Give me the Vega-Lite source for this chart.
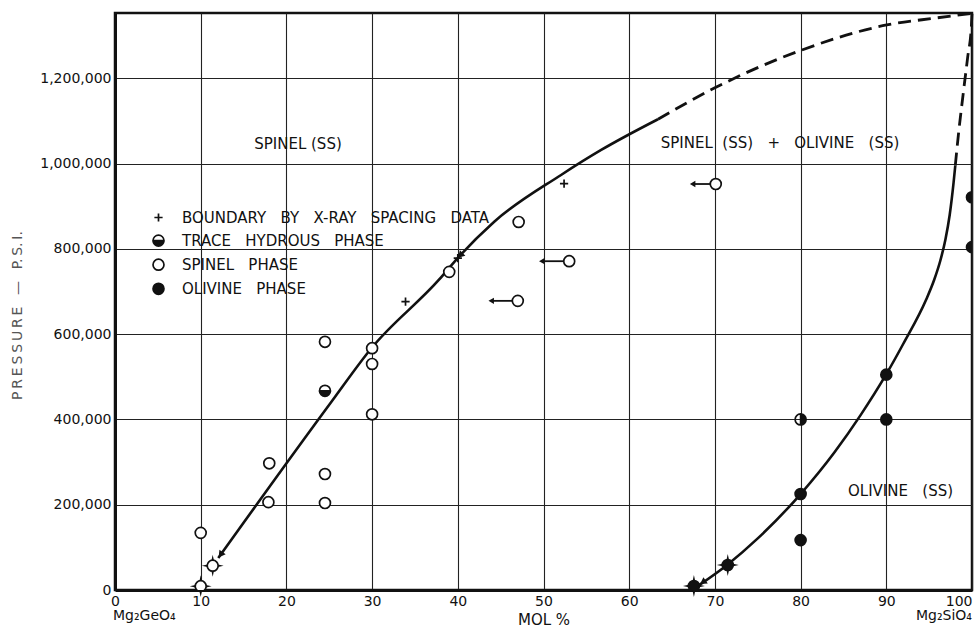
{
  "$schema": "https://vega.github.io/schema/vega-lite/v6.json",
  "width": 857,
  "height": 577,
  "autosize": {"type": "none"},
  "padding": {"left": 115, "top": 13, "right": 2, "bottom": 39},
  "background": "white",
  "config": {
    "font": "DejaVu Sans",
    "view": {"stroke": "#111", "strokeWidth": 2.5},
    "axis": {
      "labelFont": "DejaVu Sans",
      "labelFontSize": 14,
      "labelColor": "#111",
      "titleFont": "DejaVu Sans",
      "titleFontWeight": "normal",
      "tickSize": 0,
      "domainColor": "#111",
      "domainWidth": 3,
      "gridColor": "#222",
      "gridWidth": 1.1,
      "gridOpacity": 1
    },
    "legend": {
      "orient": "none",
      "legendX": 30,
      "legendY": 191,
      "title": null,
      "labelFont": "DejaVu Sans",
      "labelFontSize": 15,
      "labelColor": "#111",
      "labelLimit": 400,
      "labelOffset": 16,
      "rowPadding": 5.1,
      "padding": 6,
      "symbolSize": 120,
      "symbolStrokeWidth": 1.7,
      "symbolStrokeColor": "#111",
      "symbolOpacity": 1
    }
  },
  "datasets": {
    "curves": [
      {"curve": "spinel", "kind": "observed", "mol": 12.05, "psi": 75000},
      {"curve": "spinel", "kind": "observed", "mol": 25.15, "psi": 438500},
      {"curve": "spinel", "kind": "observed", "mol": 29.94, "psi": 567500},
      {"curve": "spinel", "kind": "observed", "mol": 37.78, "psi": 727000},
      {"curve": "spinel", "kind": "observed", "mol": 39.96, "psi": 777800},
      {"curve": "spinel", "kind": "observed", "mol": 44.25, "psi": 863600},
      {"curve": "spinel", "kind": "observed", "mol": 52.05, "psi": 973200},
      {"curve": "spinel", "kind": "observed", "mol": 56.73, "psi": 1031800},
      {"curve": "spinel", "kind": "observed", "mol": 63.36, "psi": 1103800},
      {"curve": "spinel", "kind": "inferred", "mol": 63.36, "psi": 1103800},
      {"curve": "spinel", "kind": "inferred", "mol": 69.94, "psi": 1177000},
      {"curve": "spinel", "kind": "inferred", "mol": 80.12, "psi": 1266000},
      {"curve": "spinel", "kind": "inferred", "mol": 90.06, "psi": 1325000},
      {"curve": "spinel", "kind": "inferred", "mol": 95.67, "psi": 1341000},
      {"curve": "spinel", "kind": "inferred", "mol": 100, "psi": 1352000},
      {"curve": "olivine", "kind": "observed", "mol": 68.2, "psi": 12000},
      {"curve": "olivine", "kind": "observed", "mol": 71.5, "psi": 60000},
      {"curve": "olivine", "kind": "observed", "mol": 75.0, "psi": 121000},
      {"curve": "olivine", "kind": "observed", "mol": 80.0, "psi": 225000},
      {"curve": "olivine", "kind": "observed", "mol": 84.0, "psi": 324000},
      {"curve": "olivine", "kind": "observed", "mol": 87.0, "psi": 410000},
      {"curve": "olivine", "kind": "observed", "mol": 90.0, "psi": 506000},
      {"curve": "olivine", "kind": "observed", "mol": 92.0, "psi": 578000},
      {"curve": "olivine", "kind": "observed", "mol": 94.63, "psi": 680000},
      {"curve": "olivine", "kind": "observed", "mol": 95.6, "psi": 728000},
      {"curve": "olivine", "kind": "observed", "mol": 96.3, "psi": 772000},
      {"curve": "olivine", "kind": "observed", "mol": 96.9, "psi": 822000},
      {"curve": "olivine", "kind": "observed", "mol": 97.4, "psi": 880000},
      {"curve": "olivine", "kind": "observed", "mol": 97.85, "psi": 955000},
      {"curve": "olivine", "kind": "observed", "mol": 98.05, "psi": 995000},
      {"curve": "olivine", "kind": "inferred", "mol": 98.05, "psi": 995000},
      {"curve": "olivine", "kind": "inferred", "mol": 98.4, "psi": 1065000},
      {"curve": "olivine", "kind": "inferred", "mol": 98.95, "psi": 1160000},
      {"curve": "olivine", "kind": "inferred", "mol": 99.5, "psi": 1250000},
      {"curve": "olivine", "kind": "inferred", "mol": 99.92, "psi": 1320000},
      {"curve": "olivine", "kind": "inferred", "mol": 100, "psi": 1352000}
    ],
    "obs": [
      {"phase": "BOUNDARY BY X-RAY SPACING DATA", "mol": 52.4, "psi": 953000},
      {"phase": "BOUNDARY BY X-RAY SPACING DATA", "mol": 40.0, "psi": 778000},
      {"phase": "BOUNDARY BY X-RAY SPACING DATA", "mol": 33.9, "psi": 676000},
      {"phase": "SPINEL PHASE", "mol": 10.0, "psi": 9000},
      {"phase": "SPINEL PHASE", "mol": 11.4, "psi": 57000},
      {"phase": "SPINEL PHASE", "mol": 10.0, "psi": 134000},
      {"phase": "SPINEL PHASE", "mol": 18.0, "psi": 297000},
      {"phase": "SPINEL PHASE", "mol": 17.9, "psi": 206000},
      {"phase": "SPINEL PHASE", "mol": 24.5, "psi": 582000},
      {"phase": "SPINEL PHASE", "mol": 24.5, "psi": 272000},
      {"phase": "SPINEL PHASE", "mol": 24.5, "psi": 204000},
      {"phase": "SPINEL PHASE", "mol": 30.0, "psi": 567000},
      {"phase": "SPINEL PHASE", "mol": 30.0, "psi": 530000},
      {"phase": "SPINEL PHASE", "mol": 30.0, "psi": 412000},
      {"phase": "SPINEL PHASE", "mol": 39.0, "psi": 746000},
      {"phase": "SPINEL PHASE", "mol": 47.1, "psi": 863000},
      {"phase": "SPINEL PHASE", "mol": 70.1, "psi": 952000},
      {"phase": "SPINEL PHASE", "mol": 53.0, "psi": 771000},
      {"phase": "SPINEL PHASE", "mol": 47.0, "psi": 678000},
      {"phase": "TRACE HYDROUS PHASE", "mol": 24.5, "psi": 467000},
      {"phase": "TRACE HYDROUS PHASE", "mol": 80.0, "psi": 400000},
      {"phase": "OLIVINE PHASE", "mol": 67.55, "psi": 9400},
      {"phase": "OLIVINE PHASE", "mol": 71.5, "psi": 58600},
      {"phase": "OLIVINE PHASE", "mol": 80.0, "psi": 225000},
      {"phase": "OLIVINE PHASE", "mol": 80.0, "psi": 117000},
      {"phase": "OLIVINE PHASE", "mol": 90.0, "psi": 505000},
      {"phase": "OLIVINE PHASE", "mol": 90.0, "psi": 400000},
      {"phase": "OLIVINE PHASE", "mol": 100.0, "psi": 921000},
      {"phase": "OLIVINE PHASE", "mol": 100.0, "psi": 804000}
    ],
    "bursts": [
      {"mol": 10.0, "psi": 9000},
      {"mol": 11.4, "psi": 57000},
      {"mol": 67.55, "psi": 9400},
      {"mol": 71.5, "psi": 58600}
    ],
    "shifts": [
      {"mol": 70.1, "psi": 952000, "tip": 67.4},
      {"mol": 53.0, "psi": 771000, "tip": 49.8},
      {"mol": 47.0, "psi": 678000, "tip": 43.9}
    ],
    "regions": [
      {"label": "SPINEL (SS)", "mol": 21.35, "psi": 1046000},
      {"label": "SPINEL\u00a0\u00a0(SS)\u00a0\u00a0\u00a0+\u00a0\u00a0\u00a0OLIVINE\u00a0\u00a0\u00a0(SS)", "mol": 77.6, "psi": 1048000},
      {"label": "OLIVINE\u00a0\u00a0\u00a0(SS)", "mol": 91.66, "psi": 232000}
    ]
  },
  "encoding": {
    "x": {
      "field": "mol",
      "type": "quantitative",
      "scale": {"domain": [0, 100], "nice": false, "zero": false},
      "axis": {
        "values": [0, 10, 20, 30, 40, 50, 60, 70, 80, 90, 100],
        "title": "MOL %",
        "titleFontSize": 15,
        "titleColor": "#111",
        "titlePadding": 4,
        "labelPadding": 4,
        "labelAlign": {"condition": {"test": "datum.value === 100", "value": "right"}, "value": "center"}
      }
    },
    "y": {
      "field": "psi",
      "type": "quantitative",
      "scale": {"domain": [0, 1353000], "nice": false},
      "axis": {
        "values": [0, 200000, 400000, 600000, 800000, 1000000, 1200000],
        "format": ",d",
        "labelPadding": 4,
        "title": "P\u2009R\u2009E\u2009S\u2009S\u2009U\u2009R\u2009E\u00a0\u00a0\u2009\u2014\u2009\u00a0\u00a0P.\u2009S.\u2009I.",
        "titleFontSize": 14,
        "titleColor": "#555",
        "titleAngle": -90,
        "titleAlign": "center",
        "titleBaseline": "middle",
        "titleX": -98,
        "titleY": 302
      }
    }
  },
  "layer": [
    {
      "data": {"name": "curves"},
      "transform": [{"filter": "datum.kind === 'observed'"}],
      "mark": {"type": "line", "color": "#111", "strokeWidth": 2.6, "interpolate": "monotone"},
      "encoding": {"detail": {"field": "curve", "type": "nominal"}}
    },
    {
      "data": {"name": "curves"},
      "transform": [{"filter": "datum.kind === 'inferred'"}],
      "mark": {"type": "line", "color": "#111", "strokeWidth": 2.8, "strokeDash": [13, 7], "interpolate": "monotone"},
      "encoding": {"detail": {"field": "curve", "type": "nominal"}}
    },
    {
      "data": {"name": "bursts"},
      "mark": {"type": "point", "shape": "M0,-1L0.18,-0.18L1,0L0.18,0.18L0,1L-0.18,0.18L-1,0L-0.18,-0.18Z", "filled": true, "color": "#111", "size": 480, "opacity": 1}
    },
    {
      "data": {"name": "shifts"},
      "mark": {"type": "rule", "color": "#111", "strokeWidth": 1.8},
      "encoding": {
        "x": {"field": "tip", "type": "quantitative"},
        "x2": {"field": "mol"}
      }
    },
    {
      "data": {"name": "shifts"},
      "mark": {"type": "point", "shape": "triangle-left", "filled": true, "color": "#111", "size": 40, "opacity": 1},
      "encoding": {"x": {"field": "tip", "type": "quantitative"}}
    },
    {
      "data": {"values": [{"mol": 12.32, "psi": 82600}]},
      "mark": {"type": "point", "shape": "triangle-up", "filled": true, "color": "#111", "size": 60, "opacity": 1, "angle": 216}
    },
    {
      "data": {"values": [{"mol": 40.29, "psi": 784400}]},
      "mark": {"type": "point", "shape": "triangle-up", "filled": true, "color": "#111", "size": 60, "opacity": 1, "angle": 225}
    },
    {
      "data": {"values": [{"mol": 68.59, "psi": 18200}]},
      "mark": {"type": "point", "shape": "triangle-up", "filled": true, "color": "#111", "size": 60, "opacity": 1, "angle": 236}
    },
    {
      "data": {"name": "obs"},
      "mark": {"type": "point", "filled": true, "stroke": "#111", "strokeWidth": 1.7, "size": 120, "opacity": 1, "clip": true},
      "encoding": {
        "shape": {
          "field": "phase",
          "type": "nominal",
          "scale": {
            "domain": ["BOUNDARY BY X-RAY SPACING DATA", "TRACE HYDROUS PHASE", "SPINEL PHASE", "OLIVINE PHASE"],
            "range": [
              "M-0.75,0H0.75M0,-0.75V0.75",
              "M1,0C1,0.5523 0.5523,1 0,1C-0.5523,1 -1,0.5523 -1,0C-1,-0.5523 -0.5523,-1 0,-1C0.5523,-1 1,-0.5523 1,0ZM1,0C1,-0.5523 0.5523,-1 0,-1C-0.5523,-1 -1,-0.5523 -1,0Z",
              "circle",
              "circle"
            ]
          },
          "legend": {
            "labelExpr": "replace(datum.label, regexp(' ', 'g'), '\u00a0\u00a0\u00a0')",
            "encode": {"symbols": {"update": {"stroke": {"value": "#111"}, "strokeWidth": {"value": 1.7}, "opacity": {"value": 1}}}}
          }
        },
        "fill": {
          "field": "phase",
          "type": "nominal",
          "scale": {
            "domain": ["BOUNDARY BY X-RAY SPACING DATA", "TRACE HYDROUS PHASE", "SPINEL PHASE", "OLIVINE PHASE"],
            "range": ["#111", "#111", "white", "#111"]
          },
          "legend": {
            "labelExpr": "replace(datum.label, regexp(' ', 'g'), '\u00a0\u00a0\u00a0')",
            "encode": {"symbols": {"update": {"stroke": {"value": "#111"}, "strokeWidth": {"value": 1.7}, "opacity": {"value": 1}}}}
          }
        },
        "angle": {"condition": {"test": "datum.phase === 'TRACE HYDROUS PHASE' && datum.mol === 80", "value": 270}, "value": 0}
      }
    },
    {
      "data": {"name": "regions"},
      "mark": {"type": "text", "fontSize": 15, "color": "#111", "align": "center", "baseline": "middle"},
      "encoding": {"text": {"field": "label", "type": "nominal"}}
    },
    {
      "data": {"values": [{"label": "Mg₂GeO₄", "mol": 0, "psi": 0}]},
      "mark": {"type": "text", "fontSize": 14, "color": "#111", "align": "left", "baseline": "middle", "dx": -2, "dy": 26},
      "encoding": {"text": {"field": "label", "type": "nominal"}}
    },
    {
      "data": {"values": [{"label": "Mg₂SiO₄", "mol": 100, "psi": 0}]},
      "mark": {"type": "text", "fontSize": 14, "color": "#111", "align": "right", "baseline": "middle", "dx": 0, "dy": 26},
      "encoding": {"text": {"field": "label", "type": "nominal"}}
    }
  ]
}
